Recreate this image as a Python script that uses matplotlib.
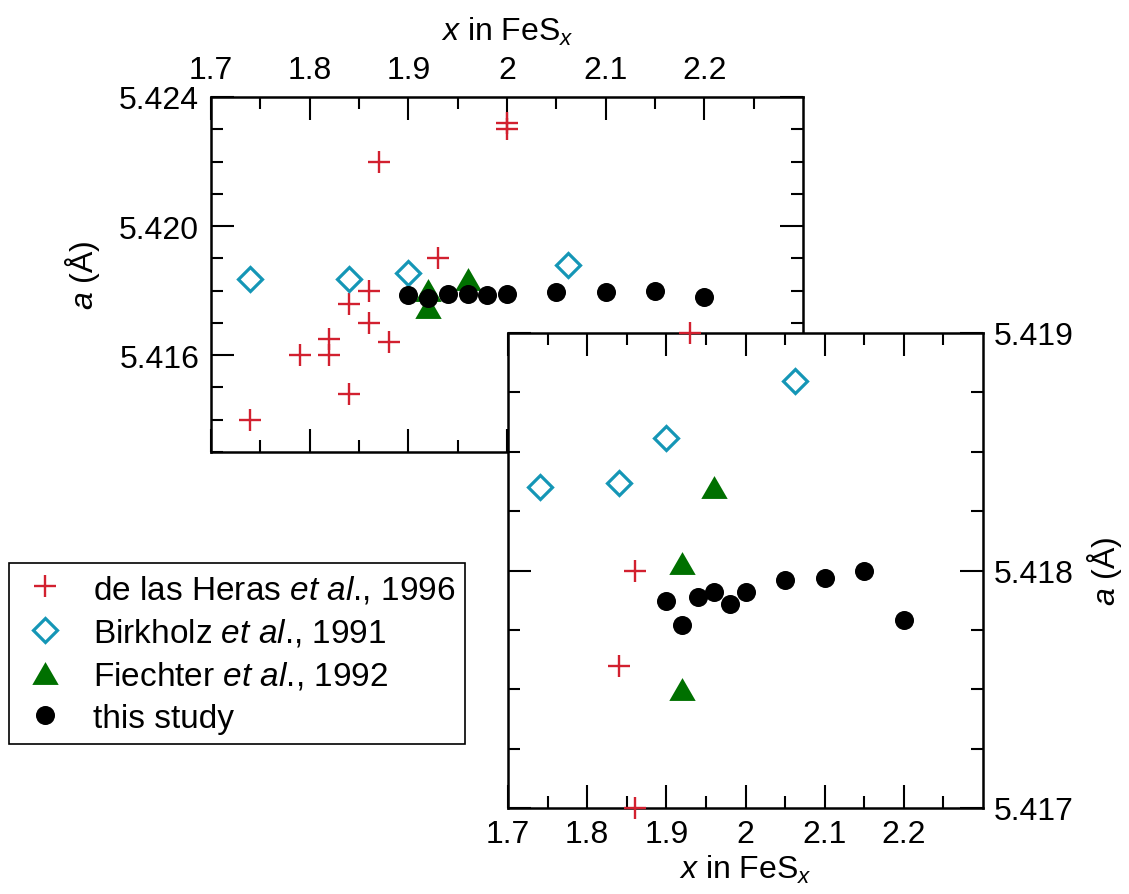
import matplotlib
matplotlib.use("Agg")
import numpy as np
import matplotlib.pyplot as plt
from matplotlib.ticker import FixedLocator, FuncFormatter

plt.rcParams["font.family"] = ["Liberation Sans", "DejaVu Sans"]
plt.rcParams["mathtext.fontset"] = "custom"
plt.rcParams["mathtext.rm"] = "Liberation Sans"
plt.rcParams["mathtext.it"] = "Liberation Sans:italic"
plt.rcParams["mathtext.bf"] = "Liberation Sans:bold"

# Lattice parameter a (Å) of pyrite FeS_x versus composition x
heras_x = [1.74, 1.79, 1.82, 1.82, 1.84, 1.84, 1.86, 1.86, 1.87, 1.88, 1.93, 2.00, 2.00]
heras_a = [5.4140, 5.4160, 5.4160, 5.4165, 5.4148, 5.4176, 5.4170, 5.4180,
           5.4220, 5.4164, 5.4190, 5.4230, 5.4232]

birk_x = [1.74, 1.84, 1.90, 2.062]
birk_a = [5.41835, 5.41837, 5.41856, 5.41880]

fiech_x = [1.92, 1.92, 1.96]
fiech_a = [5.41750, 5.41803, 5.41835]

study_x = [1.90, 1.92, 1.94, 1.96, 1.98, 2.00, 2.05, 2.10, 2.15, 2.20]
study_a = [5.41787, 5.41777, 5.41789, 5.41791, 5.41786, 5.41791,
           5.41796, 5.41797, 5.41800, 5.41779]

labels = [r"de las Heras $\mathit{et\ al}$., 1996",
          r"Birkholz $\mathit{et\ al}$., 1991",
          r"Fiechter $\mathit{et\ al}$., 1992",
          "this study"]

x_major = [1.7, 1.8, 1.9, 2.0, 2.1, 2.2]
x_minor = [1.75, 1.85, 1.95, 2.05, 2.15, 2.25]

RED = "#d2202f"
CYAN = "#1496b6"
GREEN = "#007000"

tri = [(-1.0, -0.866), (1.0, -0.866), (0.0, 0.866)]
styles = [
    dict(marker="+", color=RED, ms=16.5, mew=1.7),
    dict(marker="D", mfc="none", mec=CYAN, ms=12.3, mew=2.3),
    dict(marker=tri, color=GREEN, ms=19, mew=0),
    dict(marker="o", color="black", ms=13.7, mew=0),
]
series = [(heras_x, heras_a), (birk_x, birk_a), (fiech_x, fiech_a), (study_x, study_a)]

FS = 23
LFS = 24
W, H = 1129, 895
fig = plt.figure(figsize=(W / 100, H / 100), dpi=100)
ax = fig.add_axes([211 / W, 1 - 453 / H, 592 / W, 355 / H], zorder=1)
ins = fig.add_axes([508 / W, 1 - 809 / H, 475 / W, 475 / H], zorder=3)

fmt_x = FuncFormatter(lambda v, p: "%g" % round(v, 3))
fmt_y = FuncFormatter(lambda v, p: "%.3f" % v)


def style_axes(a):
    for s in a.spines.values():
        s.set_linewidth(1.8)
    a.tick_params(which="both", direction="in", width=1.5, colors="black",
                  labelsize=FS, top=True, bottom=True, left=True, right=True)
    a.tick_params(which="major", length=16.5)
    a.tick_params(which="minor", length=8.6)
    a.xaxis.set_major_locator(FixedLocator(x_major))
    a.xaxis.set_minor_locator(FixedLocator(x_minor))
    a.xaxis.set_major_formatter(fmt_x)
    a.yaxis.set_major_formatter(fmt_y)
    a.set_xlim(1.7, 2.3)


# Main panel: full range
style_axes(ax)
ax.set_ylim(5.413, 5.424)
ax.yaxis.set_major_locator(FixedLocator([5.416, 5.420, 5.424]))
ax.yaxis.set_minor_locator(FixedLocator(np.round(np.arange(5.413, 5.4235, 0.001), 4)))
ax.tick_params(which="both", labeltop=True, labelbottom=False, labelleft=True, labelright=False,
               pad=8.5)
ax.xaxis.set_label_position("top")
ax.set_xlabel(r"$\mathit{x}$ in FeS$_{\mathit{x}}$", fontsize=FS, labelpad=11)
ax.set_ylabel(r"$\mathit{a}$ (Å)", fontsize=FS, labelpad=12)

handles = []
for (xs, ys), st in zip(series, styles):
    h, = ax.plot(xs, ys, linestyle="none", zorder=3, **st)
    handles.append(h)

# Inset panel: zoom on 5.417-5.419
style_axes(ins)
ins.set_facecolor("white")
lo, hi = 5.417, 5.419
ins.set_ylim(lo, hi)
ins.yaxis.set_major_locator(FixedLocator([5.417, 5.418, 5.419]))
ins.yaxis.set_minor_locator(FixedLocator(np.round(np.arange(5.417, 5.41901, 0.00025), 5)))
ins.tick_params(which="both", labeltop=False, labelbottom=True, labelleft=False, labelright=True,
                pad=8)
ins.yaxis.set_label_position("right")
ins.set_xlabel(r"$\mathit{x}$ in FeS$_{\mathit{x}}$", fontsize=FS, labelpad=3)
ins.set_ylabel(r"$\mathit{a}$ (Å)", fontsize=FS, labelpad=8)

for (xs, ys), st in zip(series, styles):
    xs = np.asarray(xs)
    ys = np.asarray(ys)
    keep = (ys >= lo - 1e-7) & (ys <= hi + 1e-7)
    ins.plot(xs[keep], ys[keep], linestyle="none", zorder=3, clip_on=False, **st)

leg = fig.legend(handles, labels, loc="upper left",
                 bbox_to_anchor=(9 / W, 1 - 564 / H), bbox_transform=fig.transFigure,
                 fontsize=LFS, frameon=True, fancybox=False, framealpha=1,
                 edgecolor="black", borderaxespad=0, borderpad=0.3,
                 handlelength=1.56, handletextpad=0.66, labelspacing=0.34,
                 numpoints=1)
leg.get_frame().set_linewidth(1.2)

fig.savefig("out.png", dpi=100)
